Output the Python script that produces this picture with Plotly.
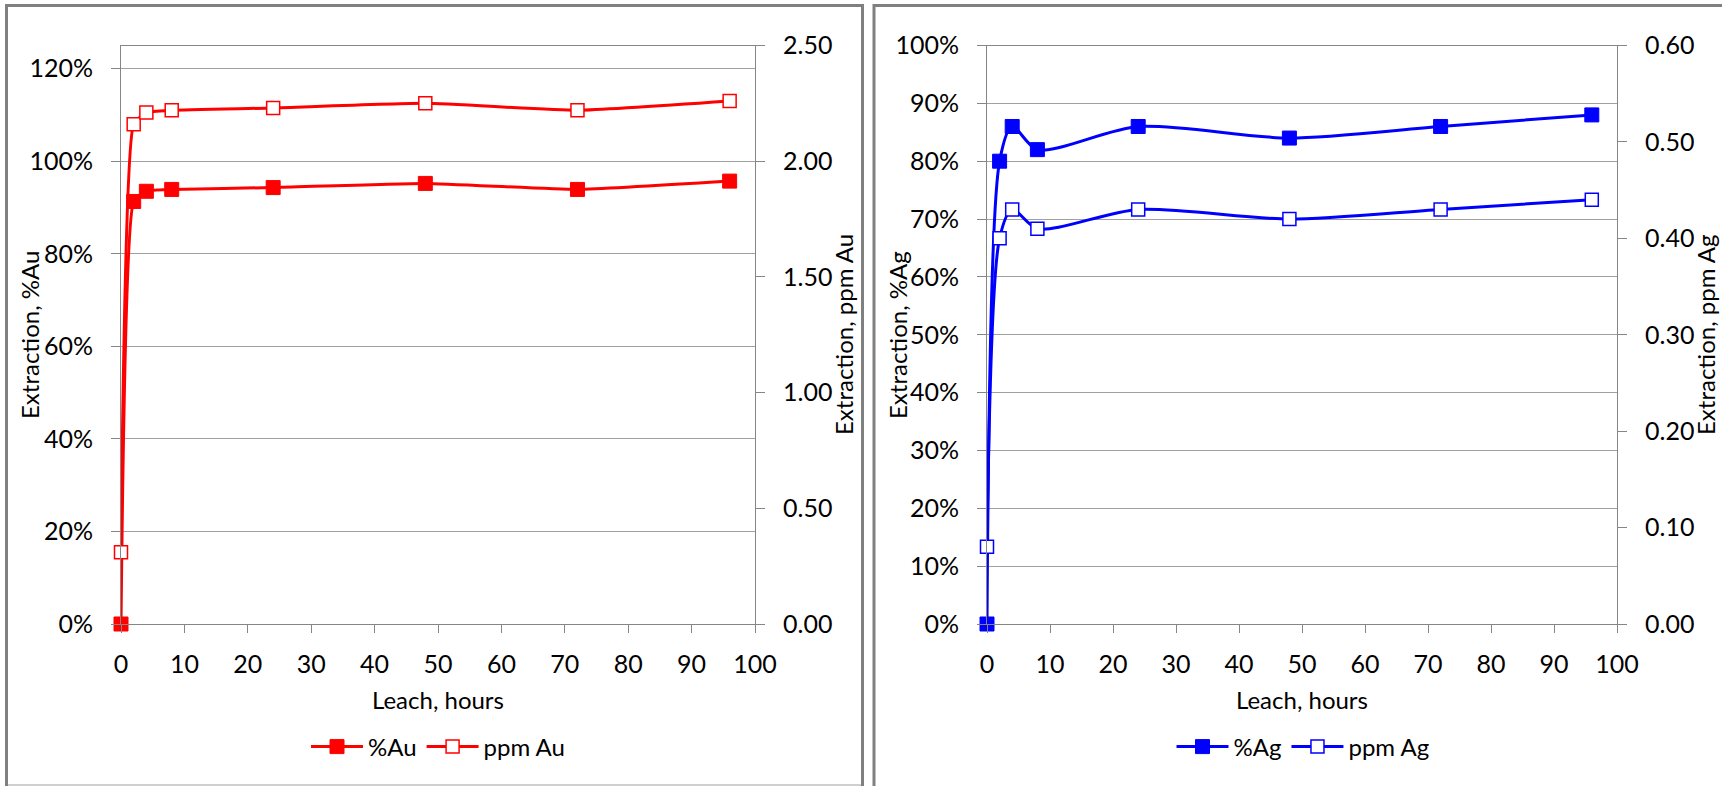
import plotly.graph_objects as go

# ---- data ----
hours = [0, 2, 4, 8, 24, 48, 72, 96]
pct_au = [0.0, 0.913, 0.935, 0.939, 0.943, 0.952, 0.939, 0.957]
ppm_au = [0.31, 2.16, 2.21, 2.22, 2.23, 2.25, 2.22, 2.26]
pct_ag = [0.0, 0.80, 0.86, 0.82, 0.86, 0.84, 0.86, 0.88]
ppm_ag = [0.08, 0.40, 0.43, 0.41, 0.43, 0.42, 0.43, 0.44]

x_ticks = list(range(0, 101, 10))

W, H = 1722, 786
FONT = "Lato"
FS = 24
TFS = 25
RED = "#FF0000"
BLUE = "#0000FF"
GRID = "#A0A0A0"
AXL = "#868686"
SM_AU = 0.45
SM_AG = 0.8


def px(x):
    return x / W


def py(y):
    return 1 - y / H


fig = go.Figure()

common = dict(mode="lines+markers", line_shape="spline", cliponaxis=False)

fig.add_trace(go.Scatter(x=hours, y=pct_au, name="%Au", xaxis="x", yaxis="y",
                         line=dict(color=RED, width=3, smoothing=SM_AU),
                         marker=dict(symbol="square", size=14, color=RED, line=dict(color=RED, width=1)),
                         legend="legend", **common))
fig.add_trace(go.Scatter(x=hours, y=ppm_au, name="ppm Au", xaxis="x", yaxis="y2",
                         line=dict(color=RED, width=3, smoothing=SM_AU),
                         marker=dict(symbol="square", size=13, color="white", line=dict(color=RED, width=1.5)),
                         legend="legend", **common))
fig.add_trace(go.Scatter(x=hours, y=pct_ag, name="%Ag", xaxis="x2", yaxis="y3",
                         line=dict(color=BLUE, width=3, smoothing=SM_AG),
                         marker=dict(symbol="square", size=14, color=BLUE, line=dict(color=BLUE, width=1)),
                         legend="legend2", **common))
fig.add_trace(go.Scatter(x=hours, y=ppm_ag, name="ppm Ag", xaxis="x2", yaxis="y4",
                         line=dict(color=BLUE, width=3, smoothing=SM_AG),
                         marker=dict(symbol="square", size=13, color="white", line=dict(color=BLUE, width=1.5)),
                         legend="legend2", **common))

tickfont = dict(family=FONT, size=TFS, color="black")

xcommon = dict(range=[0, 100], tickvals=x_ticks, showgrid=False, zeroline=False,
               showline=True, linecolor=AXL, linewidth=1, mirror=True,
               ticks="outside", ticklen=8, tickcolor=AXL, tickfont=tickfont,
               ticklabelstandoff=10, fixedrange=True, automargin=False)
ycommon = dict(zeroline=False, showline=True, linecolor=AXL, linewidth=1,
               ticks="outside", ticklen=9, tickcolor=AXL, tickfont=tickfont,
               ticklabelstandoff=13, fixedrange=True, automargin=False)

L = [px(121), px(755)]
R = [px(987), px(1617)]
YD = [py(624), py(45.5)]

fig.update_layout(
    width=W, height=H,
    margin=dict(l=0, r=0, t=0, b=0, pad=0, autoexpand=False),
    paper_bgcolor="white", plot_bgcolor="white",
    font=dict(family=FONT, size=FS, color="black"),
    xaxis=dict(domain=L, anchor="y", **xcommon),
    yaxis=dict(domain=YD, anchor="x", range=[0, 1.25], tickvals=[0, 0.2, 0.4, 0.6, 0.8, 1.0, 1.2],
               tickformat=".0%", showgrid=True, gridcolor=GRID, gridwidth=1, **ycommon),
    yaxis2=dict(overlaying="y", anchor="x", side="right", range=[0, 2.5],
                tickvals=[0, 0.5, 1.0, 1.5, 2.0, 2.5], tickformat=".2f", showgrid=False, **ycommon),
    xaxis2=dict(domain=R, anchor="y3", **xcommon),
    yaxis3=dict(domain=YD, anchor="x2", range=[0, 1.0], tickvals=[i / 10 for i in range(11)],
                tickformat=".0%", showgrid=True, gridcolor=GRID, gridwidth=1, **ycommon),
    yaxis4=dict(overlaying="y3", anchor="x2", side="right", range=[0, 0.6],
                tickvals=[0, 0.1, 0.2, 0.3, 0.4, 0.5, 0.6], tickformat=".2f", showgrid=False, **ycommon),
    legend=dict(orientation="h", x=px(438), y=py(747), xanchor="center", yanchor="middle",
                font=dict(family=FONT, size=FS), itemwidth=52, bgcolor="rgba(0,0,0,0)"),
    legend2=dict(orientation="h", x=px(1303), y=py(747), xanchor="center", yanchor="middle",
                 font=dict(family=FONT, size=FS), itemwidth=52, bgcolor="rgba(0,0,0,0)"),
    showlegend=True,
)

ann = dict(xref="paper", yref="paper", showarrow=False, font=dict(family=FONT, size=FS, color="black"),
           xanchor="center", yanchor="middle")
fig.add_annotation(text="Leach, hours", x=px(438), y=py(699), **ann)
fig.add_annotation(text="Leach, hours", x=px(1302), y=py(699), **ann)
fig.add_annotation(text="Extraction, %Au", x=px(29), y=py(335), textangle=-90, **ann)
fig.add_annotation(text="Extraction, ppm Au", x=px(843), y=py(335), textangle=-90, **ann)
fig.add_annotation(text="Extraction, %Ag", x=px(897), y=py(335), textangle=-90, **ann)
fig.add_annotation(text="Extraction, ppm Ag", x=px(1705), y=py(335), textangle=-90, **ann)

# panel frames
frame = dict(type="rect", xref="paper", yref="paper", line=dict(color="#808080", width=3),
             fillcolor="rgba(0,0,0,0)", layer="above")
fig.add_shape(x0=px(6.5), x1=px(862.5), y0=py(800), y1=py(5.5), **frame)
fig.add_shape(x0=px(874), x1=px(1740), y0=py(800), y1=py(5.5), **frame)
fig.add_shape(type="line", xref="paper", yref="paper", x0=px(8), x1=px(861), y0=py(785), y1=py(785),
              line=dict(color="#C0C0C0", width=1.5))

fig.write_html("out.html", config={"displayModeBar": False},
               post_script="document.body.style.margin='0';document.body.style.overflow='hidden';")
